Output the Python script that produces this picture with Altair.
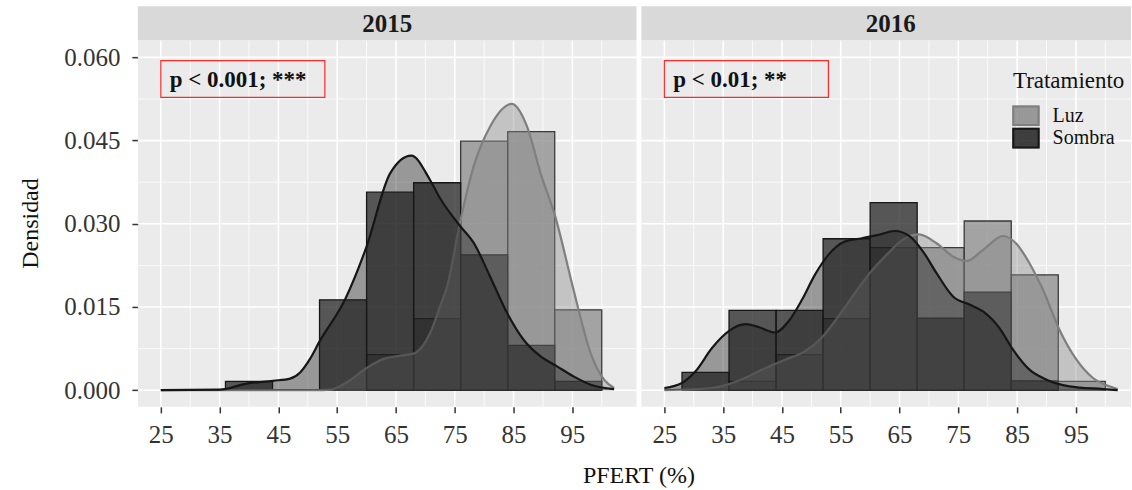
import altair as alt
import pandas as pd

FONT = "Liberation Serif"

# Histogram bins (left edges) of PFERT, bin width 8
bin_start = [28, 36, 44, 52, 60, 68, 76, 84, 92]
bin_width = 8

# Histogram densities per bin
hist_2015_luz = [0, 0, 0, 0, 0.0064, 0.0129, 0.0449, 0.0466, 0.0145]
hist_2015_sombra = [0, 0.0016, 0, 0.0163, 0.0357, 0.0374, 0.0244, 0.0081, 0.0016]
hist_2016_luz = [0, 0.0016, 0.0064, 0.0129, 0.0257, 0.0257, 0.0305, 0.0208, 0.0016]
hist_2016_sombra = [0.0032, 0.0144, 0.0144, 0.0273, 0.0338, 0.0130, 0.0177, 0.0017, 0]

# Kernel density curves
dens_2015_luz_x = [25.0, 40.0, 51.5, 53.8, 56.6, 60.0, 62.8, 65.5, 68.0, 70.8, 72.5, 73.7,
                   75.9, 78.2, 81.0, 84.7, 87.3, 89.6, 92.1, 95.2, 98.1, 100.4, 102.1]
dens_2015_luz_y = [0.0, 0.0, 0.0, 0.0001, 0.0014, 0.0040, 0.0056, 0.0062, 0.0066, 0.0103, 0.0151, 0.0187,
                   0.0303, 0.0403, 0.0475, 0.0516, 0.0475, 0.0391, 0.0313, 0.0181, 0.0067, 0.0019, 0.0004]
dens_2015_sombra_x = [25.0, 35.0, 39.6, 44.1, 47.0, 48.7, 50.3, 52.0, 56.4, 60.0, 64.0, 67.6, 70.8,
                      72.5, 75.9, 78.2, 81.0, 83.9, 86.7, 89.6, 92.4, 95.2, 98.1, 102.1]
dens_2015_sombra_y = [0.0, 0.0001, 0.0012, 0.0017, 0.0021, 0.0032, 0.0055, 0.0088, 0.0165, 0.0259, 0.0391,
                      0.0423, 0.0379, 0.0346, 0.0296, 0.0266, 0.0205, 0.0139, 0.0091, 0.0061, 0.0043,
                      0.0025, 0.0010, 0.0002]
dens_2016_luz_x = [25.0, 33.1, 37.6, 41.6, 45.5, 48.9, 51.7, 54.6, 58.0, 60.0, 62.8, 65.6, 68.3,
                   71.3, 74.1, 76.4, 79.2, 82.6, 84.8, 87.1, 89.4, 92.2, 95.1, 97.9, 100.7, 102.1]
dens_2016_luz_y = [0.0, 0.0004, 0.0017, 0.0037, 0.0055, 0.0070, 0.0094, 0.0133, 0.0184, 0.0212, 0.0244,
                   0.0272, 0.0281, 0.0265, 0.0241, 0.0233, 0.0253, 0.0278, 0.0265, 0.0229, 0.0181,
                   0.0109, 0.0055, 0.0022, 0.0007, 0.0002]
dens_2016_sombra_x = [25.0, 28.0, 30.3, 33.1, 35.9, 38.8, 41.0, 43.8, 46.1, 48.4, 50.6, 52.9, 55.7,
                      58.6, 61.4, 64.2, 66.8, 69.0, 71.3, 74.1, 77.0, 79.2, 82.0, 84.3, 87.1, 90.0,
                      93.9, 99.6, 102.1]
dens_2016_sombra_y = [0.0004, 0.0013, 0.0034, 0.0076, 0.0106, 0.0119, 0.0114, 0.0104, 0.0124, 0.0163,
                      0.0208, 0.0244, 0.0268, 0.0274, 0.0280, 0.0287, 0.0277, 0.0250, 0.0211, 0.0169,
                      0.0154, 0.0142, 0.0112, 0.0073, 0.0037, 0.0019, 0.0007, 0.0002, 0.0]

years = ["2015", "2016"]
groups = ["Luz", "Sombra"]
p_labels = ["p < 0.001; ***", "p < 0.01; **"]
legend_title = "Tratamiento"
x_title = "PFERT (%)"
y_title = "Densidad"

x_major = [25, 35, 45, 55, 65, 75, 85, 95]
x_minor = [30, 40, 50, 60, 70, 80, 90, 100]
y_major = [0.0, 0.015, 0.030, 0.045, 0.060]
y_minor = [0.0075, 0.0225, 0.0375, 0.0525]

# Annotation box and label position (data units)
box_x = [25.0, 52.9]
box_y = [0.0528, 0.0594]
label_x = 26.5
label_y = 0.0546

X_MIN, X_MAX = 21.1, 105.9
Y_MIN, Y_MAX = -0.0030, 0.0631

PANEL_W = 499
PANEL_H = 367
STRIP_H = 34

STYLE = {
    "Luz": dict(fill="#868686", bar_stroke="#3a3a3a", line="#7f7f7f"),
    "Sombra": dict(fill="#1c1c1c", bar_stroke="#161616", line="#161616"),
}
HIST_ALPHA = 0.72
DENS_ALPHA = 0.4

hist = {
    ("2015", "Luz"): hist_2015_luz, ("2015", "Sombra"): hist_2015_sombra,
    ("2016", "Luz"): hist_2016_luz, ("2016", "Sombra"): hist_2016_sombra,
}
dens = {
    ("2015", "Luz"): (dens_2015_luz_x, dens_2015_luz_y),
    ("2015", "Sombra"): (dens_2015_sombra_x, dens_2015_sombra_y),
    ("2016", "Luz"): (dens_2016_luz_x, dens_2016_luz_y),
    ("2016", "Sombra"): (dens_2016_sombra_x, dens_2016_sombra_y),
}


def build_panel(i, width, x_max):
    year = years[i]
    first = i == 0
    xscale = alt.Scale(domain=[X_MIN, x_max], nice=False, zero=False)
    yscale = alt.Scale(domain=[Y_MIN, Y_MAX], nice=False, zero=False)
    tick_style = dict(grid=False, domain=False, ticks=True, tickSize=6, tickWidth=1.5,
                      tickColor="#333333", labelFont=FONT, labelFontSize=25,
                      labelColor="#333333", title=None)
    xaxis = alt.Axis(values=x_major, format="d", labelPadding=10, **tick_style)
    yaxis = alt.Axis(values=y_major, format=".3f", labelPadding=12, **tick_style) if first else None

    def X(field):
        return alt.X(field, type="quantitative", scale=xscale, axis=xaxis)

    def Y(field):
        return alt.Y(field, type="quantitative", scale=yscale, axis=yaxis)

    layers = []
    # panel grid
    for vals, w in ((x_minor, 0.8), (x_major, 1.6)):
        layers.append(alt.Chart(pd.DataFrame({"g": vals})).mark_rule(color="white", strokeWidth=w)
                      .encode(x=X("g")))
    for vals, w in ((y_minor, 0.8), (y_major, 1.6)):
        layers.append(alt.Chart(pd.DataFrame({"g": vals})).mark_rule(color="white", strokeWidth=w)
                      .encode(y=Y("g")))

    # histograms
    for g in groups:
        df = pd.DataFrame({"x0": bin_start,
                           "x1": [b + bin_width for b in bin_start],
                           "d": hist[(year, g)]})
        df = df[df["d"] > 0]
        layers.append(
            alt.Chart(df).mark_rect(fill=STYLE[g]["fill"], fillOpacity=HIST_ALPHA,
                                    stroke=STYLE[g]["bar_stroke"], strokeWidth=1.3)
            .encode(x=X("x0"), x2="x1", y=Y("d"), y2=alt.datum(0))
        )

    # density curves
    for g in groups:
        xs, ys = dens[(year, g)]
        df = pd.DataFrame({"x": xs, "y": ys})
        layers.append(
            alt.Chart(df).mark_area(interpolate="monotone", fill=STYLE[g]["fill"],
                                    fillOpacity=DENS_ALPHA)
            .encode(x=X("x"), y=Y("y"), y2=alt.datum(0))
        )
        layers.append(
            alt.Chart(df).mark_line(interpolate="monotone", color=STYLE[g]["line"], strokeWidth=2.2)
            .encode(x=X("x"), y=Y("y"))
        )

    # significance label in a red box
    box = pd.DataFrame({"x0": [box_x[0]], "x1": [box_x[1]], "y0": [box_y[0]], "y1": [box_y[1]]})
    layers.append(
        alt.Chart(box).mark_rect(fillOpacity=0, stroke="#ff2a2a", strokeWidth=1.2)
        .encode(x=X("x0"), x2="x1", y=Y("y0"), y2="y1")
    )
    lab = pd.DataFrame({"x": [label_x], "y": [label_y], "t": [p_labels[i]]})
    layers.append(
        alt.Chart(lab).mark_text(align="left", baseline="alphabetic", font=FONT, fontSize=23,
                                 fontWeight="bold", color="#111111")
        .encode(x=X("x"), y=Y("y"), text="t:N")
    )

    # facet strip
    strip = pd.DataFrame({"t": [year]})
    layers.append(
        alt.Chart(strip).mark_rect(fill="#D9D9D9")
        .encode(x=alt.value(0), x2=alt.value(width), y=alt.value(-STRIP_H), y2=alt.value(0))
    )
    layers.append(
        alt.Chart(strip).mark_text(font=FONT, fontSize=25, fontWeight="bold", color="#1a1a1a",
                                   baseline="middle", align="center")
        .encode(x=alt.value(PANEL_W / 2), y=alt.value(-STRIP_H / 2 + 1), text="t:N")
    )

    if first:
        layers.append(
            alt.Chart(pd.DataFrame({"t": [y_title]})).mark_text(
                font=FONT, fontSize=24, color="#111111", angle=270, baseline="middle", align="center")
            .encode(x=alt.value(-106.5), y=alt.value(PANEL_H / 2), text="t:N")
        )
        layers.append(
            alt.Chart(pd.DataFrame({"t": [x_title]})).mark_text(
                font=FONT, fontSize=24, color="#111111", baseline="middle", align="center")
            .encode(x=alt.value(501.5), y=alt.value(436), text="t:N")
        )
    else:
        # legend
        lx0, lx1 = 371.2, 398.5
        rows = [(65.3, 86.0), (87.7, 108.3)]
        layers.append(
            alt.Chart(pd.DataFrame({"t": [legend_title]})).mark_text(
                font=FONT, fontSize=23, color="#111111", baseline="alphabetic", align="left")
            .encode(x=alt.value(371.8), y=alt.value(48.3), text="t:N")
        )
        for g, (ya, yb) in zip(groups, rows):
            one = pd.DataFrame({"t": [g]})
            layers.append(
                alt.Chart(one).mark_rect(fill=STYLE[g]["fill"], fillOpacity=HIST_ALPHA)
                .encode(x=alt.value(lx0), x2=alt.value(lx1), y=alt.value(ya), y2=alt.value(yb))
            )
            layers.append(
                alt.Chart(one).mark_rect(fill=STYLE[g]["fill"], fillOpacity=DENS_ALPHA,
                                         stroke=STYLE[g]["line"], strokeWidth=2)
                .encode(x=alt.value(lx0 + 1), x2=alt.value(lx1 - 1), y=alt.value(ya + 1),
                        y2=alt.value(yb - 1))
            )
            layers.append(
                alt.Chart(one).mark_text(font=FONT, fontSize=20, color="#111111",
                                         baseline="middle", align="left")
                .encode(x=alt.value(411.5), y=alt.value((ya + yb) / 2), text="t:N")
            )

    return alt.layer(*layers).properties(width=width, height=PANEL_H)


p1 = build_panel(0, PANEL_W, X_MAX)
p2_width = 490
p2 = build_panel(1, p2_width, X_MIN + (X_MAX - X_MIN) * p2_width / PANEL_W)

chart = (
    alt.hconcat(p1, p2, spacing=5, bounds="flush")
    .resolve_scale(x="independent", y="independent")
    .properties(padding={"left": 19, "top": 6, "right": 0, "bottom": 0}, background="white")
    .configure_view(fill="#EBEBEB", stroke=None)
)

chart.save("out.html", embed_options={"renderer": "svg", "actions": False})
